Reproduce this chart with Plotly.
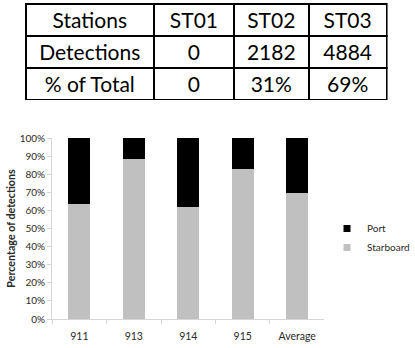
import plotly.graph_objects as go

# Table data
table_header = ["Stations", "ST01", "ST02", "ST03"]
row_labels = ["Detections", "% of Total"]
st01 = ["0", "0"]
st02 = ["2182", "31%"]
st03 = ["4884", "69%"]

# Chart data
categories = ["911", "913", "914", "915", "Average"]
starboard = [0.635, 0.884, 0.617, 0.829, 0.694]
port = [1 - v for v in starboard]
y_ticks = [i / 10 for i in range(11)]
y_tick_labels = [f"{i*10}%" for i in range(11)]

W, H = 415, 348
FONT = "Lato"
TXT = "#2a2a2a"

fig = go.Figure()

fig.add_trace(go.Table(
    domain=dict(x=[26 / W, 394 / W], y=[(H - 100) / H, (H - 4) / H]),
    columnwidth=[127, 79, 74, 77],
    header=dict(values=table_header, height=32, align="center",
                fill_color="white", line=dict(color="black", width=2),
                font=dict(family=FONT, size=21, color="black")),
    cells=dict(values=[row_labels, st01, st02, st03], height=32, align="center",
               fill_color="white", line=dict(color="black", width=2),
               font=dict(family=FONT, size=21, color="black")),
))

fig.add_trace(go.Bar(x=categories, y=starboard, marker_color="#c0c0c0",
                     name="Starboard", showlegend=False))
fig.add_trace(go.Bar(x=categories, y=port, marker_color="#000000",
                     name="Port", showlegend=False))
# legend entries
fig.add_trace(go.Scatter(x=[None], y=[None], mode="markers", name="Starboard",
                         marker=dict(symbol="square", size=7, color="#c0c0c0")))
fig.add_trace(go.Scatter(x=[None], y=[None], mode="markers", name="Port",
                         marker=dict(symbol="square", size=7, color="#000000")))

fig.update_layout(
    template="none",
    width=W, height=H,
    margin=dict(l=0, r=0, t=0, b=0),
    paper_bgcolor="white", plot_bgcolor="white",
    barmode="stack", bargap=0.6,
    font=dict(family=FONT, size=10, color=TXT),
    xaxis=dict(domain=[53 / W, 330 / W], type="category",
               showline=True, linecolor="#d6d6d6", linewidth=1,
               ticks="outside", tickson="boundaries", ticklen=4, tickcolor="#d6d6d6",
               ticklabelstandoff=7,
               showgrid=False, zeroline=False, tickfont=dict(size=10.5, color=TXT)),
    yaxis=dict(domain=[29 / H, (H - 138) / H], range=[0, 1],
               tickvals=y_ticks, ticktext=y_tick_labels,
               showline=True, linecolor="#d6d6d6", linewidth=1,
               ticks="outside", ticklen=4, tickcolor="#d6d6d6",
               showgrid=False, zeroline=False, tickfont=dict(size=10, color=TXT),
               title=dict(text="<b>Percentage of detections</b>", standoff=1,
                          font=dict(size=10.7, color=TXT))),
    legend=dict(x=333 / W, y=(H - 214) / H, xanchor="left", yanchor="top",
                traceorder="reversed", font=dict(size=10, color=TXT),
                bgcolor="rgba(0,0,0,0)", itemwidth=30, tracegroupgap=0),
    showlegend=True,
)

fig.write_html("out.html")
